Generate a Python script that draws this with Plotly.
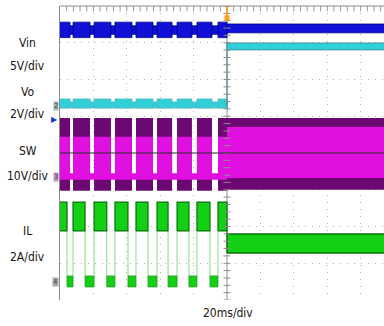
import plotly.graph_objects as go

# ---------------------------------------------------------------------------
# Short-circuit (hiccup) recovery capture: Vin, Vo, SW node and inductor current
# Time base 20 ms/div, trigger (recovery) at t = 0 ms
# ---------------------------------------------------------------------------
T_VIEW = (-100.0, 94.0)          # ms visible on screen
DIV_RANGE = (-4.0, 4.0)          # vertical divisions

# channel scale (units / div) and ground marker position (div from centre)
SCALE = {"Vin": 5.0, "Vo": 2.0, "SW": 10.0, "IL": 2.0}
GROUND = {"Vin": 0.90, "Vo": 1.28, "SW": -0.65, "IL": -3.51}

# hiccup bursts before recovery (ms)
burst_start = [-101.0, -92.2, -79.6, -67.1, -54.5, -41.9, -29.9, -18.0, -5.4]
sw_burst_end = [-94.0, -82.0, -69.5, -56.9, -44.3, -32.9, -21.0, -9.0, 0.0]
il_high_end = [-95.8, -85.0, -72.0, -59.3, -47.3, -35.3, -22.8, -10.2, 0.0]
t_recover = 0.0

# envelope levels (low, high) in channel units
vin_idle = (11.65, 12.8)     # V, between bursts
vin_burst = (11.2, 13.3)     # V, during bursts
vin_run = (11.85, 13.05)     # V, after recovery

vo_idle = (-0.11, 0.22)      # V
vo_burst = (-0.11, 0.38)     # V
vo_run = (3.05, 3.43)        # V

sw_burst_env = (-3.8, 16.0)  # V
sw_burst_core = (-0.8, 10.9) # V
sw_idle = (-0.8, 1.0)        # V
sw_run_env = (-3.5, 16.0)    # V
sw_run_core = (-0.3, 13.6)   # V

il_high = (2.78, 4.35)       # A
il_zero = (-0.27, 0.33)      # A
il_run = (1.58, 2.61)        # A


def to_div(v, ch):
    return GROUND[ch] + v / SCALE[ch]


def rects(t0s, t1s, lo, hi, ch):
    xs, ys = [], []
    a, b = to_div(lo, ch), to_div(hi, ch)
    for t0, t1 in zip(t0s, t1s):
        xs += [t0, t1, t1, t0, t0, None]
        ys += [a, a, b, b, a, None]
    return xs, ys


def band(fig, t0s, t1s, lvl, ch, fill, edge=None, ew=0.8):
    xs, ys = rects(t0s, t1s, lvl[0], lvl[1], ch)
    fig.add_trace(go.Scatter(
        x=xs, y=ys, mode="lines", fill="toself", fillcolor=fill,
        line=dict(color=edge or fill, width=ew if edge else 0),
        hoverinfo="skip"))


fig = go.Figure()

# gaps between bursts
gap_start = sw_burst_end[:-1]
gap_end = burst_start[1:]
il_gap_start = il_high_end[:-1]

# --- Vin (blue) ---
BLUE, NAVY = "#1010d6", "#00008a"
band(fig, [T_VIEW[0] - 2], [t_recover], vin_idle, "Vin", BLUE, NAVY)
band(fig, burst_start, sw_burst_end, vin_burst, "Vin", BLUE, NAVY)
band(fig, [t_recover], [T_VIEW[1] + 2], vin_run, "Vin", BLUE, NAVY)

# --- Vo (cyan) ---
CYAN, TEAL = "#2fd0d8", "#3c8890"
band(fig, [T_VIEW[0] - 2], [t_recover], vo_idle, "Vo", CYAN, "#55b8c0")
band(fig, burst_start, sw_burst_end, vo_burst, "Vo", CYAN, "#55b8c0")
fig.add_trace(go.Scatter(
    x=[t_recover, t_recover], y=[to_div(vo_idle[0], "Vo"), to_div(vo_run[1], "Vo")],
    mode="lines", line=dict(color=TEAL, width=1), hoverinfo="skip"))
band(fig, [t_recover], [T_VIEW[1] + 2], vo_run, "Vo", CYAN, TEAL)

# --- SW node (magenta) ---
MAG, PURP = "#e010e0", "#6c0872"
band(fig, [T_VIEW[0] - 2], [t_recover], sw_idle, "SW", MAG)
band(fig, burst_start, sw_burst_end, sw_burst_env, "SW", PURP)
band(fig, burst_start, sw_burst_end, sw_burst_core, "SW", MAG)
band(fig, [t_recover], [T_VIEW[1] + 2], sw_run_env, "SW", PURP)
band(fig, [t_recover], [T_VIEW[1] + 2], sw_run_core, "SW", MAG)

# --- IL (green) ---
GREEN, DKGREEN, LTGREEN = "#14d014", "#0a700a", "#84de84"
# thin edges of the current pulses
ex, ey = [], []
lo_h, hi_z = to_div(il_high[0], "IL"), to_div(il_zero[1], "IL")
for t in il_gap_start:
    ex += [t, t, None]
    ey += [lo_h, hi_z, None]
for t in gap_end:
    ex += [t, t, None]
    ey += [hi_z, lo_h, None]
fig.add_trace(go.Scatter(x=ex, y=ey, mode="lines",
                         line=dict(color=LTGREEN, width=1), hoverinfo="skip"))
band(fig, burst_start, il_high_end, il_high, "IL", GREEN, DKGREEN, 1.2)
band(fig, il_gap_start, gap_end, il_zero, "IL", GREEN, "#2a9a2a")
fig.add_trace(go.Scatter(
    x=[t_recover, t_recover], y=[to_div(il_high[0], "IL"), to_div(il_run[1], "IL")],
    mode="lines", line=dict(color=DKGREEN, width=1), hoverinfo="skip"))
band(fig, [t_recover], [T_VIEW[1] + 2], il_run, "IL", GREEN, DKGREEN, 1.4)

# --- minor ticks on the centre vertical axis and top border ---
tick_y = [i * 0.2 for i in range(-20, 21)]
fig.add_trace(go.Scatter(
    x=[0.0] * len(tick_y), y=tick_y, mode="markers",
    marker=dict(symbol="line-ew", size=5, line=dict(color="#8c8c8c", width=1)),
    hoverinfo="skip", cliponaxis=True))
tick_x = [T_VIEW[0] + i * 4.0 for i in range(1, 49)]
fig.add_trace(go.Scatter(
    x=tick_x, y=[3.93] * len(tick_x), mode="markers",
    marker=dict(symbol="line-ns", size=4, line=dict(color="#9a9a9a", width=1)),
    hoverinfo="skip"))

# --- trigger marker ---
fig.add_trace(go.Scatter(
    x=[t_recover, t_recover], y=[4.0, 3.6], mode="lines",
    line=dict(color="#ff9a10", width=1.5), hoverinfo="skip"))
fig.add_trace(go.Scatter(
    x=[t_recover], y=[3.68], mode="markers",
    marker=dict(symbol="square", size=5, color="#ffa020"), hoverinfo="skip"))

shapes = [
    # top border
    dict(type="line", xref="paper", yref="paper", x0=0, x1=1, y0=1, y1=1,
         line=dict(color="#8c8c8c", width=1)),
    # centre vertical
    dict(type="line", xref="x", yref="paper", x0=0, x1=0, y0=0, y1=1,
         line=dict(color="#8c9898", width=1), layer="below"),
    # centre horizontal
    dict(type="line", xref="paper", yref="y", x0=0, x1=1, y0=0, y1=0,
         line=dict(color="#2a2a2a", width=1), layer="above"),
]

FONT = "DejaVu Sans Condensed, Liberation Sans Narrow, Liberation Sans, sans-serif"
labels = [
    ("Vin", 2.99), ("5V/div", 2.37),
    ("Vo", 1.66), ("2V/div", 1.06),
    ("SW", 0.05), ("10V/div", -0.63),
    ("IL", -2.12), ("2A/div", -2.83),
]
ann = []
for txt, yd in labels:
    ann.append(dict(text=txt, xref="paper", yref="y", x=-0.099, y=yd,
                    showarrow=False, xanchor="center", yanchor="middle",
                    font=dict(family=FONT, size=12, color="#151515")))
ann.append(dict(text="20ms/div", xref="x", yref="paper", x=0.6, y=-0.044,
                showarrow=False, xanchor="center", yanchor="middle",
                font=dict(family=FONT, size=12, color="#151515")))

# ground markers at the left edge
for name, txt, bg in [("Vo", "2", "#9cb8b8"), ("SW", "3", "#c890cc"),
                      ("IL", "4", "#a4aca4")]:
    ann.append(dict(text=txt, xref="paper", yref="y", x=0, y=GROUND[name],
                    xanchor="right", yanchor="middle", xshift=-1,
                    showarrow=False, bgcolor=bg, borderpad=0,
                    font=dict(family="DejaVu Sans", size=7, color="#404040")))
ann.append(dict(text="\u25B6", xref="paper", yref="y", x=0, y=GROUND["Vin"],
                xanchor="right", yanchor="middle", xshift=0, showarrow=False,
                font=dict(family="DejaVu Sans", size=8, color="#1a3ad0")))

grid = dict(showgrid=True, gridcolor="#b4b4b4", griddash="1px,6px", gridwidth=1,
            zeroline=False, showticklabels=False, ticks="")
fig.update_layout(
    width=384, height=326,
    margin=dict(l=60, r=0, t=6, b=26),
    paper_bgcolor="white", plot_bgcolor="white",
    showlegend=False,
    xaxis=dict(range=list(T_VIEW), tick0=-100, dtick=20, **grid),
    yaxis=dict(range=list(DIV_RANGE), tick0=-4, dtick=1,
               showline=True, linecolor="#8c8c8c", linewidth=1, **grid),
    shapes=shapes,
    annotations=ann,
)

fig.write_html("out.html")
